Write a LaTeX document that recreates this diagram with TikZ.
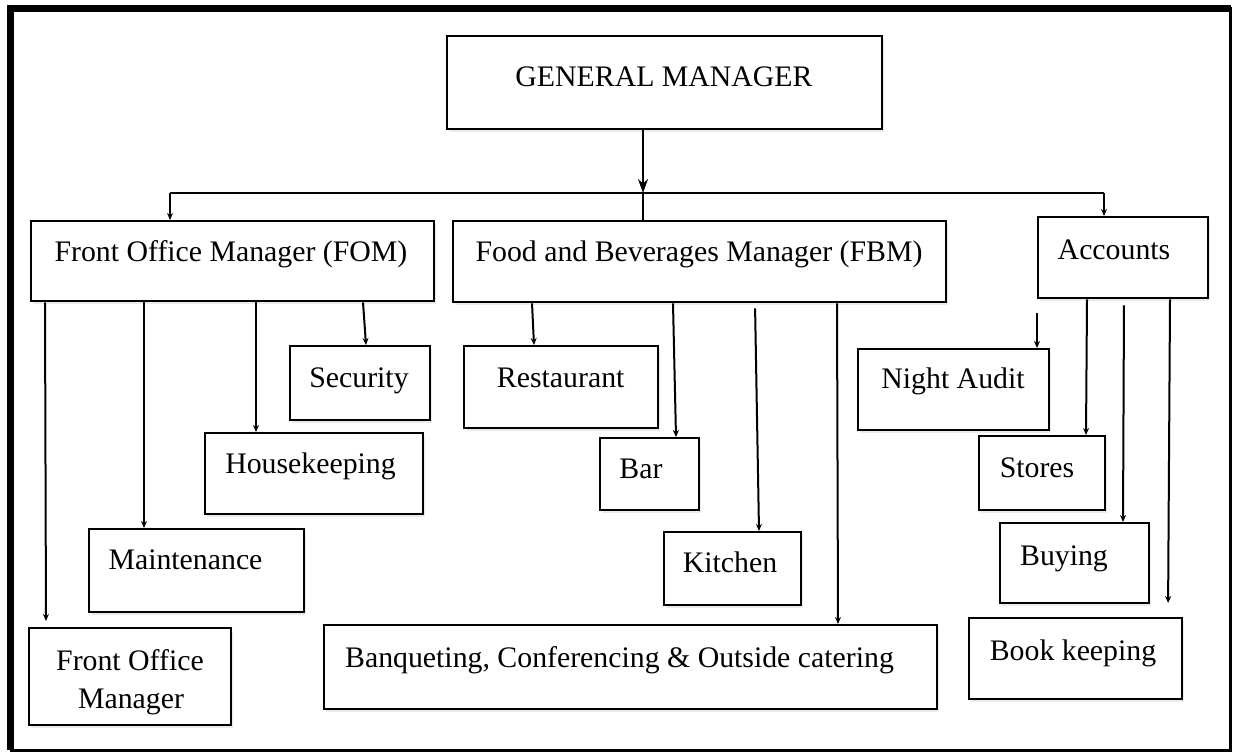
\documentclass[tikz,border=0pt]{standalone}
\usepackage{fontspec}
\setmainfont{Liberation Serif}
\usetikzlibrary{arrows.meta,shadows}
\newcommand\ubox[5]{\node[box,minimum width=#4pt,minimum height=#5pt] (#1) at (#2,#3) {};}
\begin{document}
\begin{tikzpicture}[x=1pt,y=-1pt,
  box/.style={draw=black,line width=2.4pt,fill=white,inner sep=0pt,anchor=north west,
    drop shadow={opacity=0.16,shadow xshift=1.5pt,shadow yshift=-3pt}},
  lbl/.style={anchor=base,inner sep=0pt,font=\fontsize{29.8}{36}\selectfont},
  link/.style={line width=2pt},
  arr/.style={line width=2pt,-{Stealth[length=7pt,width=6pt]}},
  bigarr/.style={line width=2pt,-{Stealth[length=14pt,width=10pt]}}]
\useasboundingbox (0,0) rectangle (1233,753);
% outer frame, heavier on top and left
\draw[line width=3pt] (11,8) -- (1230,8) -- (1230,750) -- (11,750) -- cycle;
\draw[line width=7pt] (10.5,750) -- (10.5,8) -- (1231,8);

% boxes
\ubox{gm}{446}{35}{435}{93}
\ubox{fom}{30}{220}{403}{80}
\ubox{fbm}{452}{220}{493}{81}
\ubox{acc}{1037}{216}{170}{81}
\ubox{sec}{289}{345}{140}{74}
\ubox{hk}{204}{432}{218}{81}
\ubox{mnt}{88}{528}{215}{83}
\ubox{fofm}{28}{627}{202}{97}
\ubox{rest}{463}{345}{194}{82}
\ubox{bar}{599}{437}{99}{72}
\ubox{kit}{663}{531}{137}{73}
\ubox{banq}{323}{624}{613}{84}
\ubox{na}{857}{348}{191}{81}
\ubox{sto}{978}{435}{126}{74}
\ubox{buy}{999}{522}{149}{80}
\ubox{bk}{968}{617}{213}{81}

% labels
\node[lbl] (gm-t) at (664,86) {GENERAL MANAGER};
\node[lbl] (fom-t) at (231,261) {Front Office Manager (FOM)};
\node[lbl] (fbm-t) at (699,261) {Food and Beverages Manager (FBM)};
\node[lbl] (acc-t) at (1114,259) {Accounts};
\node[lbl] (sec-t) at (359,387) {Security};
\node[lbl] (hk-t) at (310.5,473) {Housekeeping};
\node[lbl] (mnt-t) at (185.5,569) {Maintenance};
\node[lbl] (fofm-t1) at (130,670) {Front Office};
\node[lbl] (fofm-t2) at (131,708) {Manager};
\node[lbl] (rest-t) at (560.7,387) {Restaurant};
\node[lbl] (bar-t) at (641,478) {Bar};
\node[lbl] (kit-t) at (730,572) {Kitchen};
\node[lbl] (banq-t) at (619.5,667) {Banqueting, Conferencing \& Outside catering};
\node[lbl] (na-t) at (953,388) {Night Audit};
\node[lbl] (sto-t) at (1037,477) {Stores};
\node[lbl] (buy-t) at (1064,565) {Buying};
\node[lbl] (bk-t) at (1073,660) {Book keeping};

% distribution bus under the general manager
\coordinate (busL) at (170,193);
\coordinate (busM) at (643,193);
\coordinate (busR) at (1104,193);
\draw[link] (busL) -- (busR);
\draw[bigarr] (gm.south -| busM) -- (busM);
\draw[link] (busM) -- (busM |- fbm.north);
\draw[arr] (busL) -- (busL |- fom.north);
\draw[arr] (busR) -- (busR |- acc.north);

% front office branches
\draw[arr,shorten >=6pt] (fom.south -| 45,0) -- (fofm.north -| 46,0);
\draw[arr] (fom.south -| 144,0) -- (mnt.north -| 144,0);
\draw[arr] (fom.south -| 256,0) -- (hk.north -| 256,0);
\draw[arr] (fom.south -| 363,0) -- (sec.north -| 366,0);

% food and beverages branches
\draw[arr] (fbm.south -| 532,0) -- (rest.north -| 534,0);
\draw[arr] (fbm.south -| 673,0) -- (bar.north -| 676,0);
\draw[arr,shorten <=5pt] (fbm.south -| 755,0) -- (kit.north -| 759,0);
\draw[arr] (fbm.south -| 837,0) -- (banq.north -| 838,0);

% accounts branches
\coordinate (nastub) at (1037,313);
\draw[arr] (nastub) -- (na.north -| 1037,0);
\draw[arr] (acc.south -| 1087,0) -- (sto.north -| 1086,0);
\draw[arr,shorten <=6pt] (acc.south -| 1124,0) -- (buy.north -| 1123,0);
\draw[arr,shorten >=14pt] (acc.south -| 1170,0) -- (bk.north -| 1168,0);
\end{tikzpicture}
\end{document}
